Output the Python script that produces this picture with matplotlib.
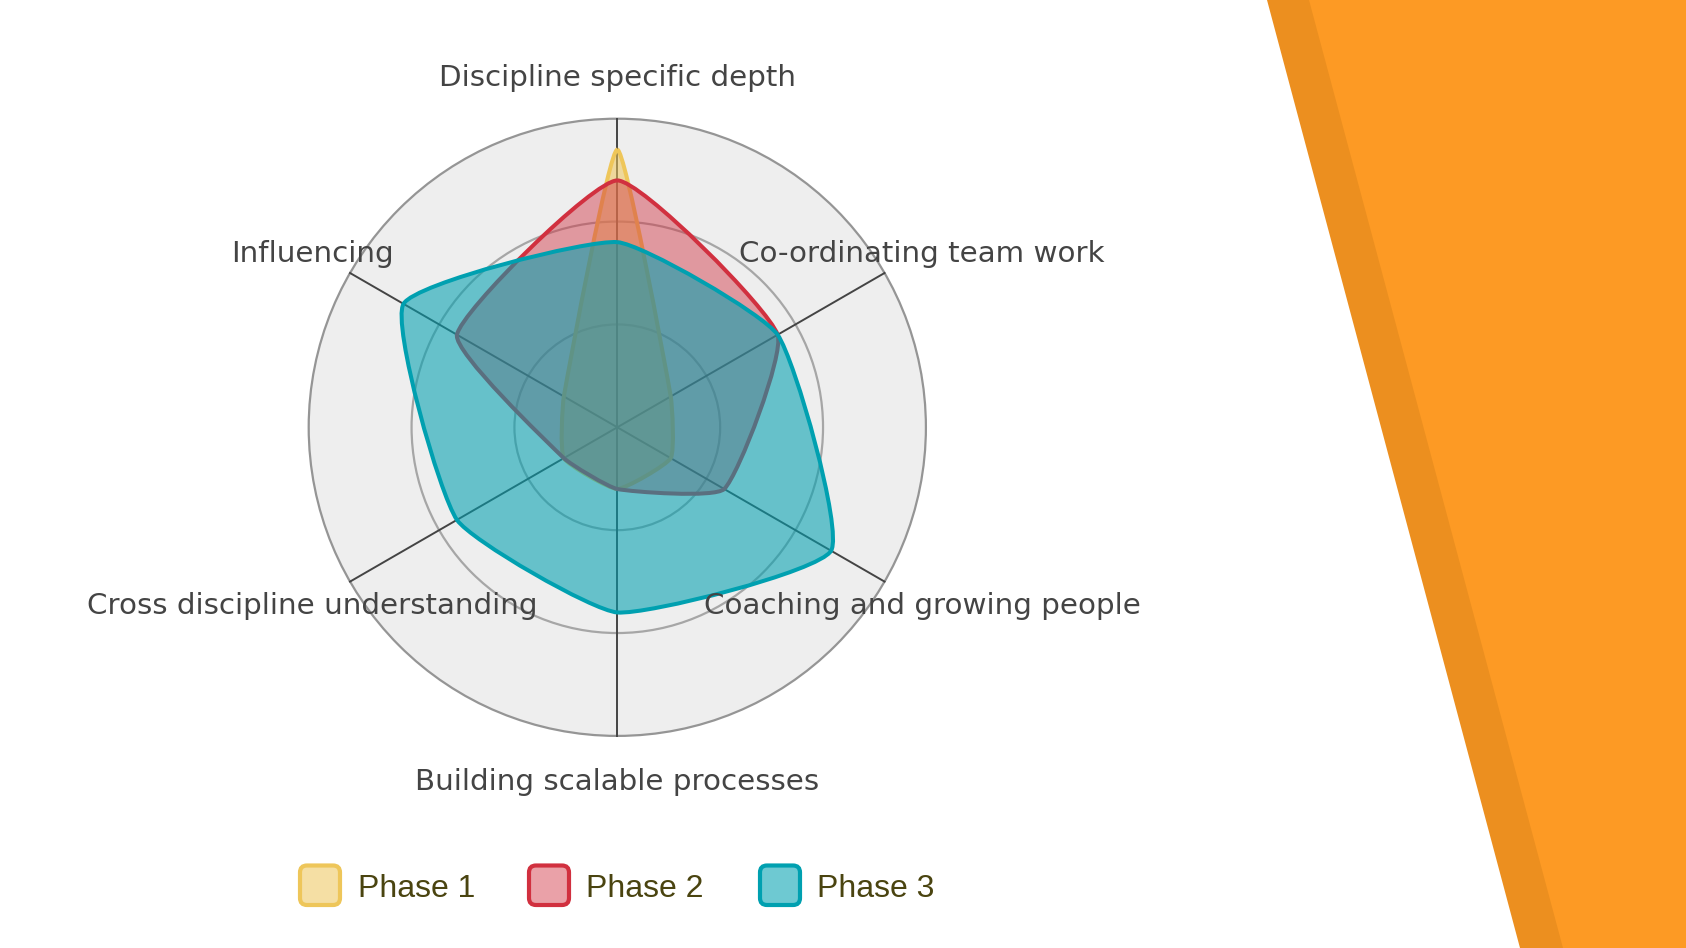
import numpy as np
import matplotlib
matplotlib.use("Agg")
import matplotlib.pyplot as plt
from matplotlib.path import Path
from matplotlib.patches import PathPatch, Polygon, Circle, FancyBboxPatch

# data
categories = ["Discipline specific depth", "Co-ordinating team work", "Coaching and growing people",
              "Building scalable processes", "Cross discipline understanding", "Influencing"]
phase_names = ["Phase 1", "Phase 2", "Phase 3"]
phase1 = [2.7, 0.6, 0.6, 0.6, 0.6, 0.6]
phase2 = [2.4, 1.8, 1.2, 0.6, 0.6, 1.8]
phase3 = [1.8, 1.8, 2.4, 1.8, 1.8, 2.4]
ring_values = [1, 2, 3]
scale_max = 3

line_colors = ["#EEC65A", "#D1303F", "#00A0B0"]
fill_alphas = [0.55, 0.45, 0.57]

W, H = 1686, 948
cx, cy, R = 617.3, 427.3, 308.6   # radar centre / radius in pixels
px = R / scale_max                # pixels per value unit


def spline_path(xs, ys, t=0.15):
    # closed curve through all points, control points like chart.js splineCurve
    n = len(xs)
    pts = np.column_stack([xs, ys])
    c_prev, c_next = [], []
    for i in range(n):
        p0, p1, p2 = pts[i - 1], pts[i], pts[(i + 1) % n]
        d01 = np.hypot(*(p1 - p0))
        d12 = np.hypot(*(p2 - p1))
        s01 = d01 / (d01 + d12)
        s12 = d12 / (d01 + d12)
        c_prev.append(p1 - t * s01 * (p2 - p0))
        c_next.append(p1 + t * s12 * (p2 - p0))
    verts = [pts[0]]
    codes = [Path.MOVETO]
    for i in range(n):
        j = (i + 1) % n
        verts += [c_next[i], c_prev[j], pts[j]]
        codes += [Path.CURVE4] * 3
    return Path(verts, codes)


fig = plt.figure(figsize=(W / 100, H / 100), dpi=100)
fig.patch.set_facecolor("white")

# background / legend layer in pixel coords
bg = fig.add_axes([0, 0, 1, 1])
bg.set_xlim(0, W)
bg.set_ylim(H, 0)
bg.axis("off")
bg.add_patch(Polygon([(1267, 0), (W, 0), (W, H), (1520, H)], closed=True, fc="#EC8F1F", ec="none"))
bg.add_patch(Polygon([(1309, 0), (W, 0), (W, H), (1563, H)], closed=True, fc="#FD9A24", ec="none"))

# radar layer in value units
ax = fig.add_axes([0, 0, 1, 1])
ax.patch.set_alpha(0)
ax.set_xlim(-cx / px, (W - cx) / px)
ax.set_ylim(-(H - cy) / px, cy / px)
ax.axis("off")

angles = np.pi / 2 - np.arange(len(categories)) * 2 * np.pi / len(categories)

ax.add_patch(Circle((0, 0), scale_max, fc="#EEEEEE", ec="none", zorder=1))
for rv in ring_values:
    ax.add_patch(Circle((0, 0), rv, fill=False, ec="#959595" if rv == scale_max else "#A6A6A6",
                        lw=1.6, zorder=2))
for a in angles:
    ax.plot([0, scale_max * np.cos(a)], [0, scale_max * np.sin(a)], color="#444444", lw=1.4, zorder=2)

for k, vals in enumerate([phase1, phase2, phase3]):
    v = np.array(vals)
    path = spline_path(v * np.cos(angles), v * np.sin(angles))
    z = 3 + 2 * k
    ax.add_patch(PathPatch(path, fc=line_colors[k], alpha=fill_alphas[k], ec="none", zorder=z))
    ax.add_patch(PathPatch(path, fill=False, ec=line_colors[k], lw=2.9, joinstyle="round", zorder=z + 1))

label_r = 3.42
for a, name in zip(angles, categories):
    ax.text(label_r * np.cos(a), label_r * np.sin(a), name, ha="center", va="center_baseline",
            fontsize=21.2, color="#444444", family="DejaVu Sans", zorder=10)

# legend
box_x = [298, 527, 758]
text_x = [358, 586, 817]
for k, name in enumerate(phase_names):
    bg.add_patch(FancyBboxPatch((box_x[k] + 2, 865.5), 40, 39.5, boxstyle="round,pad=0,rounding_size=7",
                                fc=line_colors[k], alpha=fill_alphas[k], ec="none"))
    bg.add_patch(FancyBboxPatch((box_x[k] + 2, 865.5), 40, 39.5, boxstyle="round,pad=0,rounding_size=7",
                                fill=False, ec=line_colors[k], lw=3))
    bg.text(text_x[k], 897, name, ha="left", va="baseline", fontsize=23,
            family="Liberation Sans", color="#4A4410")

fig.savefig("out.png", dpi=100)
